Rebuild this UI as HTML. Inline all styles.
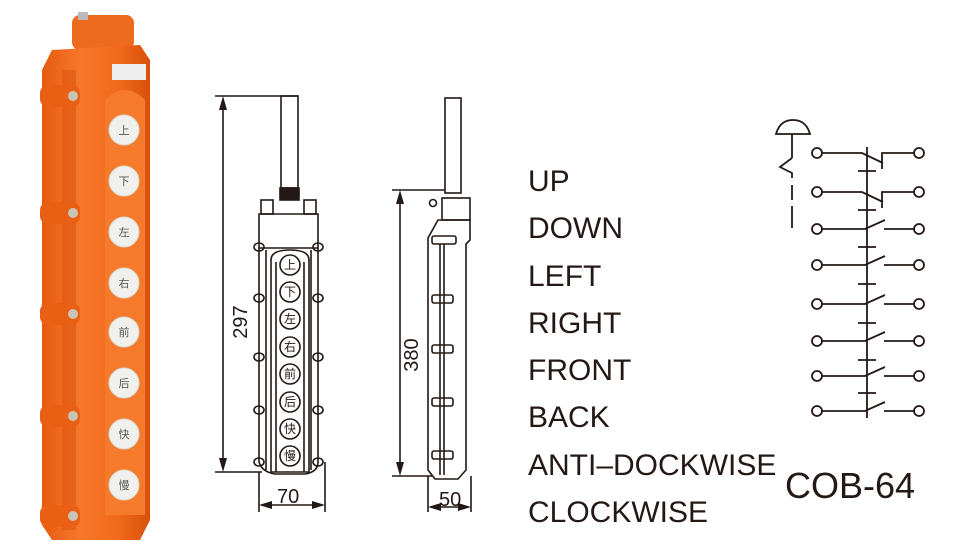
<!DOCTYPE html>
<html><head><meta charset="utf-8"><style>
html,body{margin:0;padding:0;background:#fff;}
svg{display:block;}
</style></head><body>
<svg width="977" height="551" viewBox="0 0 977 551" xmlns="http://www.w3.org/2000/svg">
<defs>
<linearGradient id="og" x1="0" x2="1" y1="0" y2="0">
<stop offset="0" stop-color="#e65a10"/><stop offset="0.35" stop-color="#f7772a"/><stop offset="0.7" stop-color="#f26a1c"/><stop offset="1" stop-color="#d9500c"/>
</linearGradient>
</defs>
<!-- photo -->
<g>
<rect x="72" y="15" width="62" height="35" rx="8" fill="#ee6a1e"/>
<rect x="78" y="12" width="10" height="8" fill="#bbb"/>
<path d="M52 50 L140 45 L150 60 L150 520 L140 540 L52 540 L42 525 L42 70 Z" fill="url(#og)"/>
<path d="M105 100 Q125 80 145 100 L145 515 L105 515 Z" fill="#f57a2c"/>
<rect x="62" y="70" width="14" height="460" fill="#d9520e" opacity="0.5"/>
<g fill="#e95f14">
<rect x="40" y="85" width="40" height="22" rx="8"/><rect x="40" y="202" width="40" height="22" rx="8"/>
<rect x="40" y="303" width="40" height="22" rx="8"/><rect x="40" y="405" width="40" height="22" rx="8"/><rect x="40" y="505" width="40" height="22" rx="8"/>
</g>
<g fill="#c9c4b8"><circle cx="73" cy="96" r="5"/><circle cx="73" cy="213" r="5"/><circle cx="73" cy="314" r="5"/><circle cx="73" cy="416" r="5"/><circle cx="73" cy="516" r="5"/></g>
<rect x="112" y="64" width="34" height="16" fill="#eee"/>
<g fill="#f0f0ec" stroke="#d8d8d0">
<circle cx="124" cy="130" r="15"/><circle cx="124" cy="181" r="15"/><circle cx="124" cy="232" r="15"/><circle cx="124" cy="283" r="15"/>
<circle cx="124" cy="332" r="15"/><circle cx="124" cy="383" r="15"/><circle cx="124" cy="434" r="15"/><circle cx="124" cy="485" r="15"/>
</g>
</g>
<g fill="none" stroke="#231815" stroke-width="1.6">
<!-- front view -->
<line x1="215" y1="96" x2="298" y2="96"/>
<line x1="223" y1="100" x2="223" y2="468"/>
<line x1="215" y1="472" x2="262" y2="472"/>
<rect x="281" y="96" width="17" height="92"/>
<rect x="280" y="188" width="19" height="12" fill="#231815"/>
<rect x="261" y="200" width="12" height="14"/><rect x="304" y="200" width="12" height="14"/>
<path d="M259 214 L318 214 L318 248 L259 248 Z"/>
<path d="M259 248 L259 462 Q262 472 275 474 L305 474 Q318 472 318 462 L318 248"/>
<path d="M266 250 L266 470 M311 250 L311 470"/>
<path d="M271 260 Q271 250 290 250 Q309 250 309 260 L309 472 L271 472 Z"/>
<path d="M276 262 L276 472 M304 262 L304 472"/>
<g>
<ellipse cx="259" cy="247" rx="5" ry="4"/><ellipse cx="318" cy="247" rx="5" ry="4"/>
<ellipse cx="259" cy="298" rx="5" ry="4"/><ellipse cx="318" cy="298" rx="5" ry="4"/>
<ellipse cx="259" cy="357" rx="5" ry="4"/><ellipse cx="318" cy="357" rx="5" ry="4"/>
<ellipse cx="259" cy="410" rx="5" ry="4"/><ellipse cx="318" cy="410" rx="5" ry="4"/>
<ellipse cx="259" cy="462" rx="5" ry="4"/><ellipse cx="318" cy="462" rx="5" ry="4"/>
</g>
<g>
<circle cx="290" cy="265" r="10"/><circle cx="290" cy="292" r="10"/><circle cx="290" cy="319" r="10"/><circle cx="290" cy="347" r="10"/>
<circle cx="290" cy="374" r="10"/><circle cx="290" cy="402" r="10"/><circle cx="290" cy="429" r="10"/><circle cx="290" cy="456" r="10"/>
</g>
<line x1="259" y1="472" x2="259" y2="512"/><line x1="325" y1="462" x2="325" y2="512"/>
<line x1="264" y1="505" x2="320" y2="505"/>
<!-- side view -->
<rect x="445" y="98" width="16" height="95"/>
<line x1="392" y1="190" x2="445" y2="190"/>
<line x1="400" y1="194" x2="400" y2="472"/>
<line x1="392" y1="476" x2="432" y2="476"/>
<rect x="442" y="198" width="28" height="22"/>
<circle cx="433" cy="203" r="3.5"/>
<path d="M438 220 L470 220 L470 240 L466 244 L466 470 L458 479 L435 479 L428 470 L428 238 Z"/>
<path d="M440 244 L440 475 M444 244 L444 475"/>
<g>
<rect x="432" y="236" width="24" height="8" rx="2"/><rect x="432" y="295" width="21" height="8" rx="2"/>
<rect x="432" y="345" width="21" height="8" rx="2"/><rect x="432" y="398" width="21" height="8" rx="2"/><rect x="432" y="451" width="21" height="8" rx="2"/>
</g>
<line x1="428" y1="476" x2="428" y2="512"/><line x1="471" y1="476" x2="471" y2="512"/>
<line x1="433" y1="507" x2="466" y2="507"/>
</g>
<g fill="#231815">
<polygon points="223,96 219,110 227,110"/><polygon points="223,472 219,458 227,458"/>
<polygon points="400,190 396,204 404,204"/><polygon points="400,476 396,462 404,462"/>
<polygon points="259,505 272,501 272,509"/><polygon points="325,505 312,501 312,509"/>
<polygon points="428,507 441,503 441,511"/><polygon points="471,507 458,503 458,511"/>
</g>
<g font-family="Liberation Sans, sans-serif" fill="#231815" font-size="20">
<text x="277" y="503">70</text>
<text x="439" y="506">50</text>
<text transform="translate(247,322) rotate(-90)" text-anchor="middle">297</text>
<text transform="translate(418,355) rotate(-90)" text-anchor="middle">380</text>
</g>
<g font-family="Liberation Sans, Noto Sans CJK SC, sans-serif" font-size="12" fill="#231815" text-anchor="middle">
<text x="290" y="269">上</text><text x="290" y="296">下</text><text x="290" y="323">左</text><text x="290" y="351">右</text>
<text x="290" y="378">前</text><text x="290" y="406">后</text><text x="290" y="433">快</text><text x="290" y="460">慢</text>
</g>
<g font-family="Liberation Sans, Noto Sans CJK SC, sans-serif" font-size="11" fill="#555" text-anchor="middle">
<text x="124" y="134">上</text><text x="124" y="185">下</text><text x="124" y="236">左</text><text x="124" y="287">右</text>
<text x="124" y="336">前</text><text x="124" y="387">后</text><text x="124" y="438">快</text><text x="124" y="489">慢</text>
</g>
<!-- labels -->
<g font-family="Liberation Sans, sans-serif" font-size="30" fill="#231815">
<text x="528" y="191">UP</text>
<text x="528" y="238">DOWN</text>
<text x="528" y="286">LEFT</text>
<text x="528" y="333">RIGHT</text>
<text x="528" y="380">FRONT</text>
<text x="528" y="427">BACK</text>
<text x="528" y="475">ANTI–DOCKWISE</text>
<text x="528" y="522">CLOCKWISE</text>
</g>
<text x="785" y="498" font-family="Liberation Sans, sans-serif" font-size="36" fill="#231815">COB-64</text>
<!-- schematic -->
<g fill="none" stroke="#231815" stroke-width="1.8">
<path d="M776 134 Q780 120 793 120 Q806 120 810 134 Z"/>
<line x1="792" y1="134" x2="792" y2="158"/>
<path d="M792 158 L780 167 L792 173 L792 178"/>
<line x1="792" y1="185" x2="792" y2="200"/><line x1="792" y1="206" x2="792" y2="228"/>
<line x1="867" y1="147" x2="867" y2="418"/>
<g>
<circle cx="817" cy="153" r="5"/><circle cx="919" cy="153" r="5"/>
<circle cx="817" cy="192" r="5"/><circle cx="919" cy="192" r="5"/>
<circle cx="817" cy="229" r="5"/><circle cx="919" cy="229" r="5"/>
<circle cx="817" cy="265" r="5"/><circle cx="919" cy="265" r="5"/>
<circle cx="817" cy="304" r="5"/><circle cx="919" cy="304" r="5"/>
<circle cx="817" cy="341" r="5"/><circle cx="919" cy="341" r="5"/>
<circle cx="817" cy="376" r="5"/><circle cx="919" cy="376" r="5"/>
<circle cx="817" cy="411" r="5"/><circle cx="919" cy="411" r="5"/>
</g>
<path d="M822 153 L862 153 L883 163 M882 169 L882 153 L914 153"/>
<path d="M822 192 L862 192 L883 202 M882 208 L882 192 L914 192"/>
<path d="M822 229 L865 229 L885 220 M884 229 L914 229"/>
<path d="M822 265 L865 265 L885 256 M884 265 L914 265"/>
<path d="M822 304 L865 304 L885 295 M884 304 L914 304"/>
<path d="M822 341 L865 341 L885 332 M884 341 L914 341"/>
<path d="M822 376 L865 376 L885 367 M884 376 L914 376"/>
<path d="M822 411 L865 411 L885 402 M884 411 L914 411"/>
<path d="M858 171 L876 171 M858 210 L876 210 M858 247 L876 247 M858 284 L876 284 M858 323 L876 323 M858 360 L876 360 M858 393 L876 393"/>
</g>
</svg>
</body></html>
